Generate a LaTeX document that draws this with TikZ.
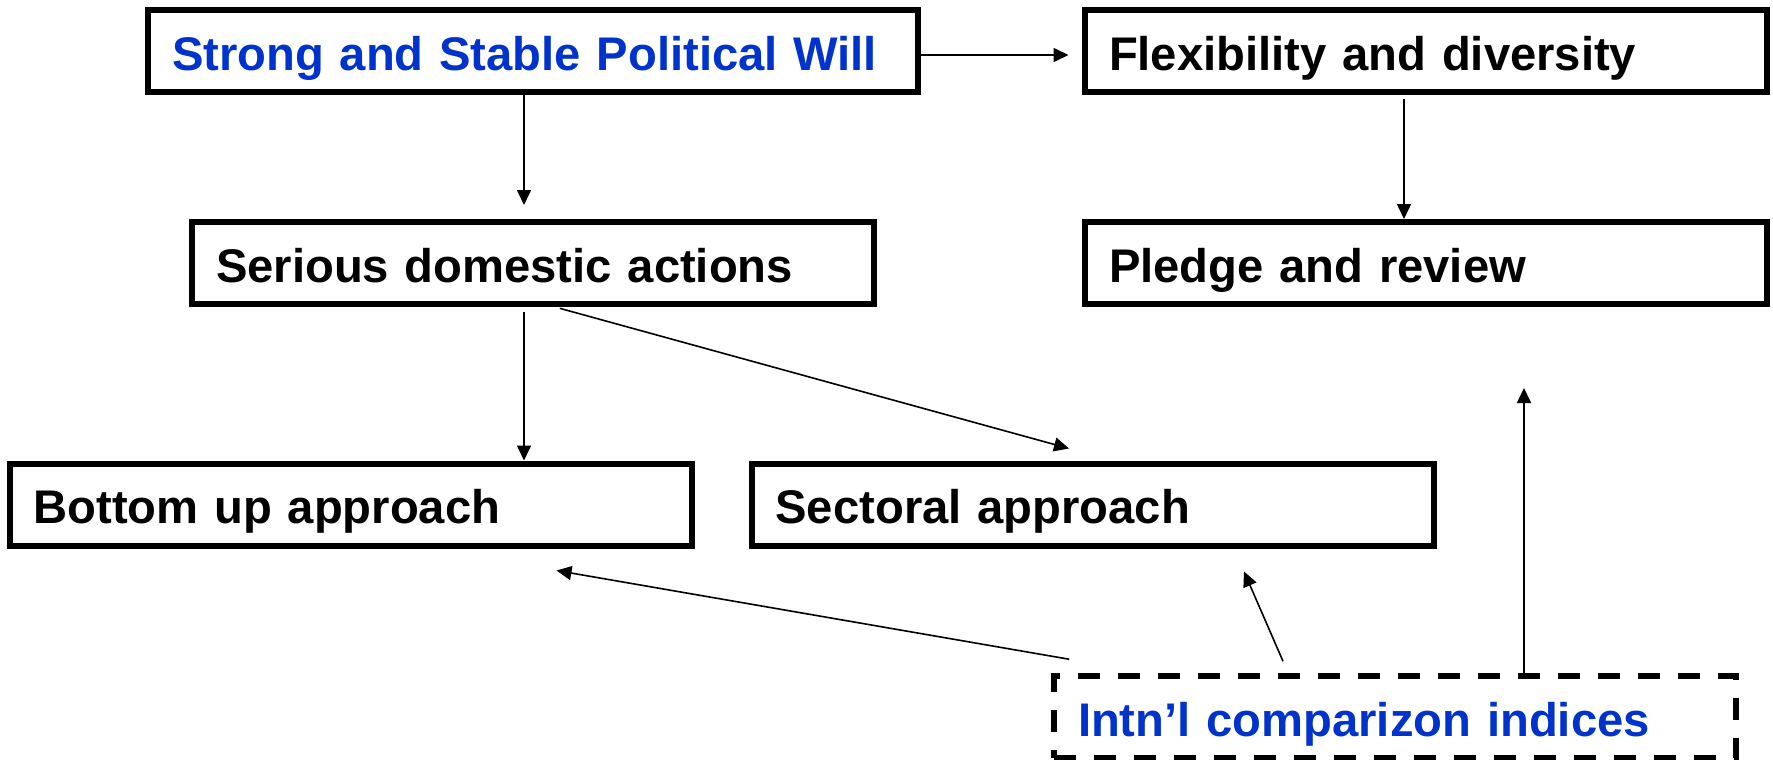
\documentclass[tikz,border=0pt]{standalone}
\usepackage{fontspec}
\setmainfont{Liberation Sans}
\usetikzlibrary{
  arrows.meta,
}
\definecolor{willblue}{RGB}{0,51,204}

\begin{document}
\begin{tikzpicture}[
  x=0.5pt, y=-0.5pt,
  font=\fontsize{23.6}{28}\selectfont\bfseries,
  box/.style={
     draw,
     line width=3pt,
     minimum height=41pt,
     inner xsep=12pt,
     text width=317pt,
     text height=19pt,
     text depth=0pt,
     align=left,
  },
  dbox/.style={
     box,
     line width=2.75pt,
     dash pattern=on 11pt off 9pt,
  },
  arr/.style={-{Triangle[length=7.5pt,width=7pt]}, line width=0.8pt},
]
   \useasboundingbox (0,0) rectangle (1773,760);

   \node[box,text width=361pt,text=willblue] (A) at (533,51) {Strong and Stable Political Will};
   \node[box] (B) at (1426,51) {Flexibility and diversity};
   \node[box] (C) at (533,263) {Serious domestic actions};
   \node[box] (D) at (1426,263) {Pledge and review};
   \node[box] (E) at (350.5,504.5) {Bottom up approach};
   \node[box] (F) at (1092.5,504.5) {Sectoral approach};
   \node[dbox,text=willblue] (G) at (1395,717) {Intn’l comparizon indices};

   \draw[arr,shorten >=6.75pt] ([yshift=-2pt]A.east) -- ([yshift=-2pt]B.west);
   \draw[arr,shorten >=7pt] ([xshift=-4.5pt]A.south) -- ([xshift=-4.5pt]C.north);
   \draw[arr,shorten <=2pt] ([xshift=-11pt]B.south) -- ([xshift=-11pt]D.north);
   \draw[arr,shorten <=2.5pt] ([xshift=-4.5pt]C.south) -- ([xshift=-4.5pt]C.south |- E.north);
   \draw[arr,shorten <=2.5pt] ([xshift=11pt]C.south) -- ([xshift=-11.75pt,yshift=6pt]F.north);
   \draw[arr] ([xshift=9pt,yshift=7pt]G.north west) -- ([xshift=103pt,yshift=-11pt]E.south);
   \draw[arr] ([xshift=-56pt,yshift=6pt]G.north) -- ([xshift=75.75pt,yshift=-11.5pt]F.south);
   \draw[arr] ([xshift=64.5pt]G.north) -- ([xshift=49pt,yshift=-40.5pt]D.south);
\end{tikzpicture}
\end{document}
